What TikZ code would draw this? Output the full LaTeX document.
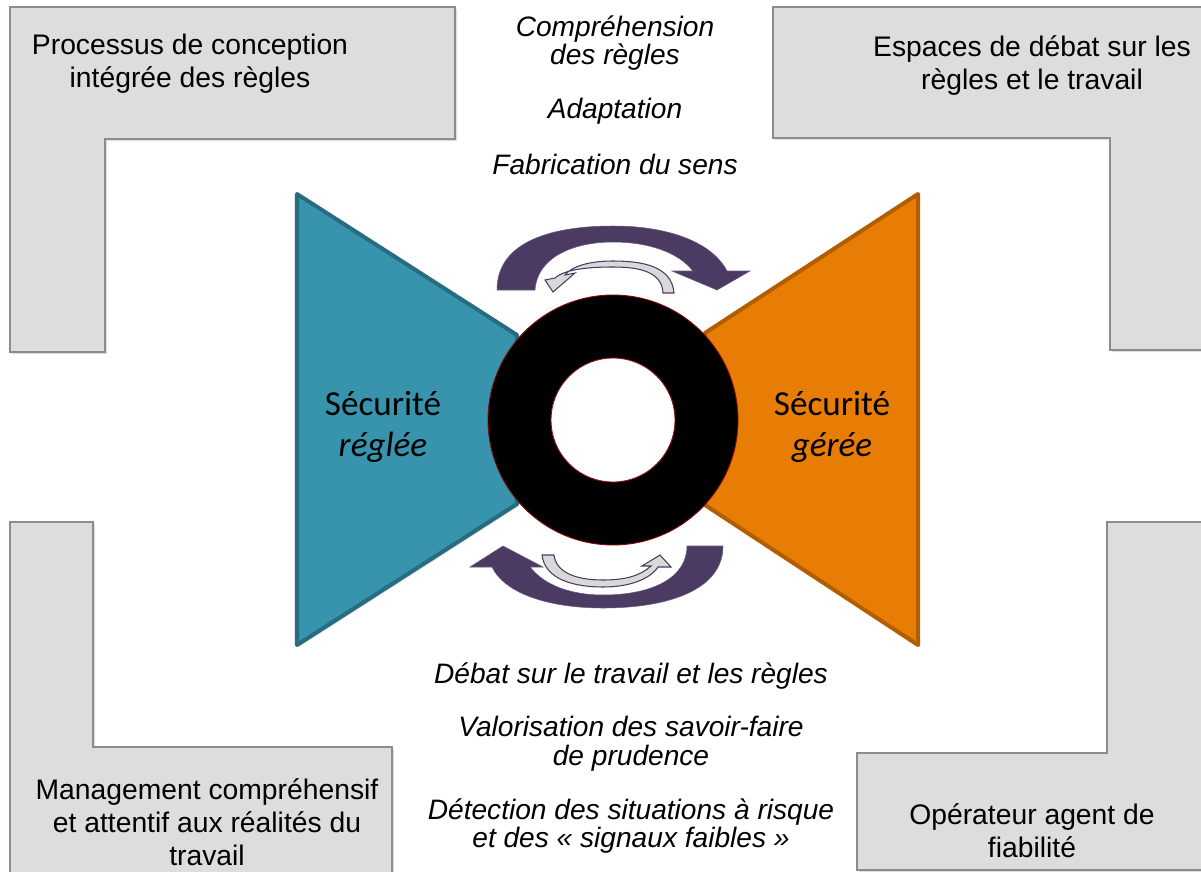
\documentclass[tikz,border=0pt]{standalone}
\usepackage{fontspec}
\setmainfont{Liberation Sans}
\newfontfamily\calibrifont{Carlito}
\usetikzlibrary{shadows}
\definecolor{boxgray}{RGB}{221,221,221}
\definecolor{boxline}{RGB}{140,140,140}
\definecolor{tealfill}{RGB}{56,147,173}
\definecolor{tealline}{RGB}{39,108,128}
\definecolor{orangefill}{RGB}{232,125,5}
\definecolor{orangeline}{RGB}{178,94,0}
\definecolor{plum}{RGB}{75,59,99}
\definecolor{ringline}{RGB}{140,10,10}
\definecolor{palegray}{RGB}{217,217,217}
\tikzset{
  lbox/.style={fill=boxgray, draw=boxline, line width=0.6pt,
    drop shadow={opacity=0.25, shadow xshift=1.2pt, shadow yshift=-1.2pt}},
  wing/.style={line width=2.3pt, line join=round,
    drop shadow={opacity=0.2, shadow xshift=1.2pt, shadow yshift=-1.2pt}},
  bigarrow/.style={fill=plum, draw=plum!85, line width=0.3pt},
  smallarrow/.style={fill=palegray, draw=plum, line width=0.6pt},
  cornertext/.style={align=center, font=\fontsize{16.1}{18.8}\selectfont},
  midtext/.style={align=center, font=\fontsize{16}{16.3}\selectfont\itshape},
  sectext/.style={align=center, font=\calibrifont\fontsize{20}{23.2}\selectfont}
}
\begin{document}
\begin{tikzpicture}[x=0.02cm, y=-0.02cm]
\useasboundingbox (0,0) rectangle (1201,872);
\clip (0,0) rectangle (1201,872);
% the four grey corner frames
\draw[lbox] (10,7) -- (455,7) -- (455,139) -- (105,139) -- (105,352) -- (10,352) -- cycle;
\draw[lbox] (773,7) -- (1215,7) -- (1215,350) -- (1110,350) -- (1110,138) -- (773,138) -- cycle;
\draw[lbox] (10,522) -- (93,522) -- (93,747) -- (392,747) -- (392,885) -- (10,885) -- cycle;
\draw[lbox] (1107,522) -- (1215,522) -- (1215,870) -- (857,870) -- (857,753) -- (1107,753) -- cycle;
% the two wings
\draw[wing, fill=tealfill, draw=tealline] (297,194) -- (517,335) -- (517,504) -- (297,645) -- cycle;
\draw[wing, fill=orangefill, draw=orangeline] (918,194) -- (705,333) -- (705,505) -- (918,645) -- cycle;
% ring in the middle
\fill[black, even odd rule] (613,420) circle[radius=125] (613,420) circle[radius=62];
\draw[ringline, line width=0.5pt] (613,420) circle[radius=125];
\draw[ringline, line width=0.5pt, fill=white] (613,420) circle[radius=62];
% curved arrows above the ring
\draw[bigarrow] (497,290) .. controls (497,240) and (555,226) .. (613,226)
  .. controls (668,226) and (712,242) .. (727,271) -- (750,271) -- (717,290) -- (672,271)
  -- (693,271) .. controls (678,252) and (648,242) .. (613,242)
  .. controls (572,242) and (537,258) .. (535,290) -- cycle;
\draw[smallarrow] (674,293) .. controls (672,266) and (642,261) .. (613,261)
  .. controls (590,261) and (572,266) .. (565,275) -- (575,273) -- (553,292) -- (545,280)
  -- (555,278) .. controls (565,269) and (590,267) .. (613,267)
  .. controls (640,267) and (662,272) .. (663,293) -- cycle;
% curved arrows below the ring
\draw[bigarrow] (723,546) .. controls (723,590) and (668,608) .. (603,608)
  .. controls (550,608) and (505,594) .. (492,567) -- (470,567) -- (503,546) -- (543,567)
  -- (530,567) .. controls (545,586) and (572,595) .. (603,595)
  .. controls (652,595) and (687,578) .. (687,546) -- cycle;
\draw[smallarrow] (542,555) .. controls (545,580) and (575,587) .. (603,587)
  .. controls (630,587) and (650,579) .. (658,567) -- (671,567) -- (660,555) -- (642,566)
  -- (651,566) .. controls (640,576) and (625,580) .. (603,580)
  .. controls (575,580) and (556,572) .. (554,555) -- cycle;
% texts of the corners
\node[cornertext] (conception) at (190,64) {Processus de conception\\intégrée des règles};
\node[cornertext] (espaces) at (1032,66) {Espaces de débat sur les\\règles et le travail};
\node[cornertext] (management) at (207,822) {Management compréhensif\\et attentif aux réalités du\\travail};
\node[cornertext] (operateur) at (1032,831) {Opérateur agent de\\fiabilité};
% texts of the wings
\node[sectext] (reglee) at (383,427) {Sécurité\\\textit{réglée}};
\node[sectext] (geree) at (832,427) {Sécurité\\\textit{gérée}};
% texts above and below the ring
\node[midtext] (comprehension) at (615,43) {Compréhension\\des règles};
\node[midtext] (adaptation) at (615,111) {Adaptation};
\node[midtext] (fabrication) at (615,164) {Fabrication du sens};
\node[midtext] (debat) at (631,676) {Débat sur le travail et les règles};
\node[midtext] (valorisation) at (631,744) {Valorisation des savoir-faire\\de prudence};
\node[midtext] (detection) at (631,826) {Détection des situations à risque\\et des « signaux faibles »};
\end{tikzpicture}
\end{document}
